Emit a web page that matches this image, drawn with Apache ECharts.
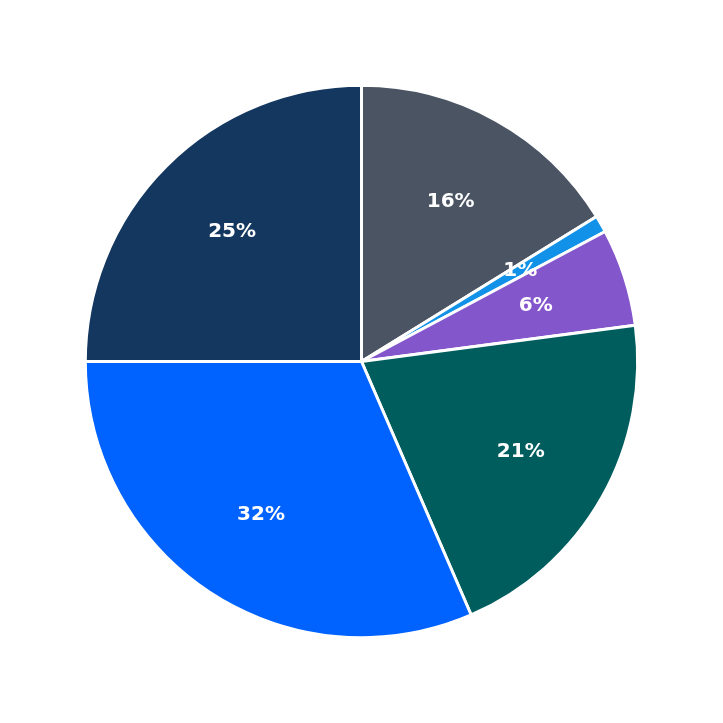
<!DOCTYPE html>
<html>
<head>
<meta charset="utf-8">
<script src="https://cdn.jsdelivr.net/npm/echarts@6/dist/echarts.min.js"></script>
<style>html,body{margin:0;padding:0;background:#fff}#main{width:723px;height:723px}</style>
</head>
<body>
<div id="main"></div>
<script>
var names = ['A', 'B', 'C', 'D', 'E', 'F'];
var values = [16.2, 1.0, 5.7, 20.6, 31.5, 25.0];
var colors = ['#4a5463', '#1192e8', '#8456cc', '#005d5d', '#0062ff', '#13375f'];

var data = names.map(function (n, i) {
    return { name: n, value: values[i], itemStyle: { color: colors[i] } };
});
var labelData = names.map(function (n, i) {
    return { name: n, value: values[i] };
});

var myChart = echarts.init(document.getElementById('main'));
myChart.setOption({
    animation: false,
    series: [
        {
            type: 'pie',
            center: ['50%', '50%'],
            radius: '76.4%',
            startAngle: 90,
            clockwise: true,
            data: data,
            itemStyle: { borderColor: '#fff', borderWidth: 3 },
            label: { show: false },
            labelLine: { show: false }
        },
        {
            // invisible overlay, only to place the labels further out
            type: 'pie',
            silent: true,
            center: ['50%', '50%'],
            radius: ['0%', '99.6%'],
            startAngle: 90,
            clockwise: true,
            data: labelData,
            itemStyle: { color: 'rgba(0,0,0,0)', borderWidth: 0 },
            label: {
                show: true,
                position: 'inside',
                formatter: function (p) { return Math.round(p.value) + '%'; },
                color: '#fff',
                fontFamily: 'DejaVu Sans',
                fontWeight: 'bold',
                fontSize: 20
            },
            labelLine: { show: false }
        }
    ]
});
</script>
</body>
</html>
